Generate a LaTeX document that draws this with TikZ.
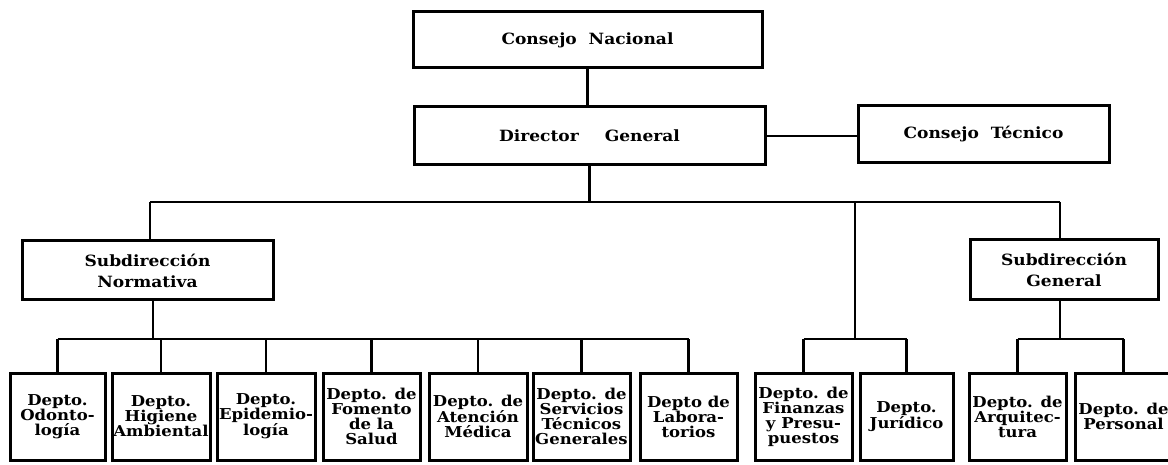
\documentclass[tikz,border=0pt]{standalone}
\usepackage{fontspec}
\setmainfont{DejaVu Serif}[FakeStretch=1.1]
\tikzset{
  box/.style={draw, line width=3pt, inner sep=0pt, align=center,
    font=\bfseries\fontsize{15.5}{21}\selectfont},
  dept/.style={box, minimum height=87pt, font=\bfseries\fontsize{15}{15}\selectfont},
  link/.style={line width=2.6pt}
}

\begin{document}
\begin{tikzpicture}[x=1pt,y=-1pt]
  \useasboundingbox (0,0) rectangle (1168,465);
  \clip (0,0) rectangle (1168,465);

  % upper levels
  \node[box, minimum width=349pt, minimum height=56pt] (cn) at (587.5,40) {Consejo\ \ Nacional};
  \node[box, minimum width=351pt, minimum height=58pt] (dg) at (589.5,136) {Director\hspace{26pt}General};
  \node[box, minimum width=251pt, minimum height=57pt] (ct) at (983.5,134.5) {Consejo\ \ Técnico};
  \node[box, minimum width=251pt, minimum height=59pt] (sn) at (147.5,270.5) {Subdirección\\Normativa};
  \node[box, minimum width=188pt, minimum height=60pt] (sg) at (1064,270) {Subdirección\\General};

  % departamentos
  \begin{scope}[every node/.style=dept]
    \node[minimum width=95pt] (b1) at (57.5,416.5) {Depto.\\Odonto-\\logía};
    \node[minimum width=98pt] (b2) at (161,416.5) {Depto.\\Higiene\\Ambiental};
    \node[minimum width=98pt] (b3) at (266,416.5) {Depto.\\Epidemio-\\logía};
    \node[minimum width=97pt] (b4) at (371.5,416.5) {Depto. de\\Fomento\\de la\\Salud};
    \node[minimum width=98pt] (b5) at (478,416.5) {Depto. de\\Atención\\Médica};
    \node[minimum width=97pt] (b6) at (581.5,416.5) {Depto. de\\Servicios\\Técnicos\\Generales};
    \node[minimum width=97pt] (b7) at (688.5,416.5) {Depto de\\Labora-\\torios};
    \node[minimum width=97pt] (b8) at (803.5,416.5) {Depto. de\\Finanzas\\y Presu-\\puestos};
    \node[minimum width=93pt] (b9) at (906.5,416.5) {Depto.\\Jurídico};
    \node[minimum width=97pt] (b10) at (1017.5,416.5) {Depto. de\\Arquitec-\\tura};
    \node[minimum width=97pt] (b11) at (1123.5,416.5) {Depto. de\\Personal};
  \end{scope}

  \coordinate (topL) at (150,202);
  \coordinate (topM) at (855,202);
  \coordinate (topR) at (1060,202);
  \coordinate (busN) at (153,339);
  \coordinate (busM) at (855,339);
  \coordinate (busG) at (1060,339);

  \draw[link] (cn.south) -- (cn.south |- dg.north);
  \draw[link] (dg.east) -- (dg.east -| ct.west);
  \draw[link] (dg.south) -- (dg.south |- topL);
  \draw[link] (topL) -- (topR);
  \draw[link] (topL) -- (topL |- sn.north);
  \draw[link] (topR) -- (topR |- sg.north);
  \draw[link] (topM) -- (busM);

  % buses of the lower level
  \draw[link] (busN |- sn.south) -- (busN);
  \draw[link] (busG |- sg.south) -- (busG);
  \draw[link] (b1.north |- busN) -- (b7.north |- busN);
  \draw[link] (b8.north |- busM) -- (b9.north |- busM);
  \draw[link] (b10.north |- busG) -- (b11.north |- busG);
  \foreach \i in {1,...,7}
    \draw[link] (b\i.north) -- (b\i.north |- busN);
  \foreach \i in {8,9}
    \draw[link] (b\i.north) -- (b\i.north |- busM);
  \foreach \i in {10,11}
    \draw[link] (b\i.north) -- (b\i.north |- busG);
\end{tikzpicture}
\end{document}
